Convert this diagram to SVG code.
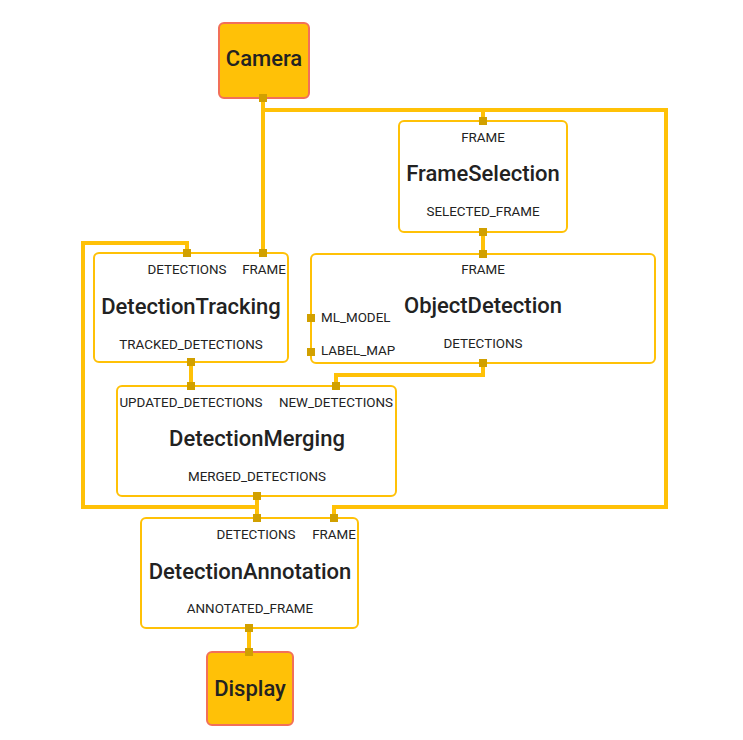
<svg xmlns="http://www.w3.org/2000/svg" width="743" height="740" viewBox="0 0 743 740">
<style>
.bg{fill:#ffffff}
.edge{fill:none;stroke:#FFC107;stroke-width:4;stroke-linejoin:miter}
.box{fill:#ffffff;stroke:#FFC107;stroke-width:2}
.io{fill:#FFC107;stroke:#F27059;stroke-width:2}
.port{fill:#D1A000}
.lbl{font-family:Roboto,"Liberation Sans",sans-serif;font-size:13.4px;fill:#222222}
.title{font-family:Roboto,"Liberation Sans",sans-serif;font-size:22px;font-weight:500;fill:#222222;text-anchor:middle}
.mid{text-anchor:middle}
</style>
<rect class="bg" x="0" y="0" width="743" height="740"/>
<g id="connectors">
<path class="edge" d="M263,98 V253"/>
<path class="edge" d="M263,110 H666 V507 H334 V518"/>
<path class="edge" d="M483,110 V121"/>
<path class="edge" d="M483,232 V254"/>
<path class="edge" d="M191,362 V386"/>
<path class="edge" d="M483,363 V375 H336 V386"/>
<path class="edge" d="M257,496 V518"/>
<path class="edge" d="M257,507 H83 V243 H187 V253"/>
<path class="edge" d="M249,628 V652"/>
</g>
<g id="Camera">
<rect class="io" x="219" y="23" width="90" height="75" rx="5"/>
<text class="title" x="264" y="66">Camera</text>
<rect class="port" x="259" y="94" width="8" height="8"/>
</g>
<g id="FrameSelection">
<rect class="box" x="399" y="121" width="168" height="111" rx="5"/>
<text class="lbl mid" x="483" y="142">FRAME</text>
<text class="title" x="483" y="181">FrameSelection</text>
<text class="lbl mid" x="483" y="216">SELECTED_FRAME</text>
<rect class="port" x="479" y="117" width="8" height="8"/>
<rect class="port" x="479" y="228" width="8" height="8"/>
</g>
<g id="DetectionTracking">
<rect class="box" x="94" y="253" width="194" height="109" rx="5"/>
<text class="lbl mid" x="187" y="274">DETECTIONS</text>
<text class="lbl mid" x="264" y="274">FRAME</text>
<text class="title" x="191" y="314">DetectionTracking</text>
<text class="lbl mid" x="191" y="349">TRACKED_DETECTIONS</text>
<rect class="port" x="183" y="249" width="8" height="8"/>
<rect class="port" x="259" y="249" width="8" height="8"/>
<rect class="port" x="187" y="358" width="8" height="8"/>
</g>
<g id="ObjectDetection">
<rect class="box" x="311" y="254" width="344" height="109" rx="5"/>
<text class="lbl mid" x="483" y="274">FRAME</text>
<text class="title" x="483" y="313">ObjectDetection</text>
<text class="lbl" x="321" y="322">ML_MODEL</text>
<text class="lbl" x="321" y="355">LABEL_MAP</text>
<text class="lbl mid" x="483" y="348">DETECTIONS</text>
<rect class="port" x="479" y="250" width="8" height="8"/>
<rect class="port" x="307" y="314" width="8" height="8"/>
<rect class="port" x="307" y="348" width="8" height="8"/>
<rect class="port" x="479" y="359" width="8" height="8"/>
</g>
<g id="DetectionMerging">
<rect class="box" x="117" y="386" width="279" height="110" rx="5"/>
<text class="lbl mid" x="191" y="407">UPDATED_DETECTIONS</text>
<text class="lbl mid" x="336" y="407">NEW_DETECTIONS</text>
<text class="title" x="257" y="446">DetectionMerging</text>
<text class="lbl mid" x="257" y="481">MERGED_DETECTIONS</text>
<rect class="port" x="187" y="382" width="8" height="8"/>
<rect class="port" x="332" y="382" width="8" height="8"/>
<rect class="port" x="253" y="492" width="8" height="8"/>
</g>
<g id="DetectionAnnotation">
<rect class="box" x="141" y="518" width="217" height="110" rx="5"/>
<text class="lbl mid" x="256" y="539">DETECTIONS</text>
<text class="lbl mid" x="334" y="539">FRAME</text>
<text class="title" x="250" y="579">DetectionAnnotation</text>
<text class="lbl mid" x="250" y="613">ANNOTATED_FRAME</text>
<rect class="port" x="253" y="514" width="8" height="8"/>
<rect class="port" x="330" y="514" width="8" height="8"/>
<rect class="port" x="245" y="624" width="8" height="8"/>
</g>
<g id="Display">
<rect class="io" x="207" y="652" width="86" height="73" rx="5"/>
<text class="title" x="250" y="696">Display</text>
<rect class="port" x="245" y="648" width="8" height="8"/>
</g>
</svg>
